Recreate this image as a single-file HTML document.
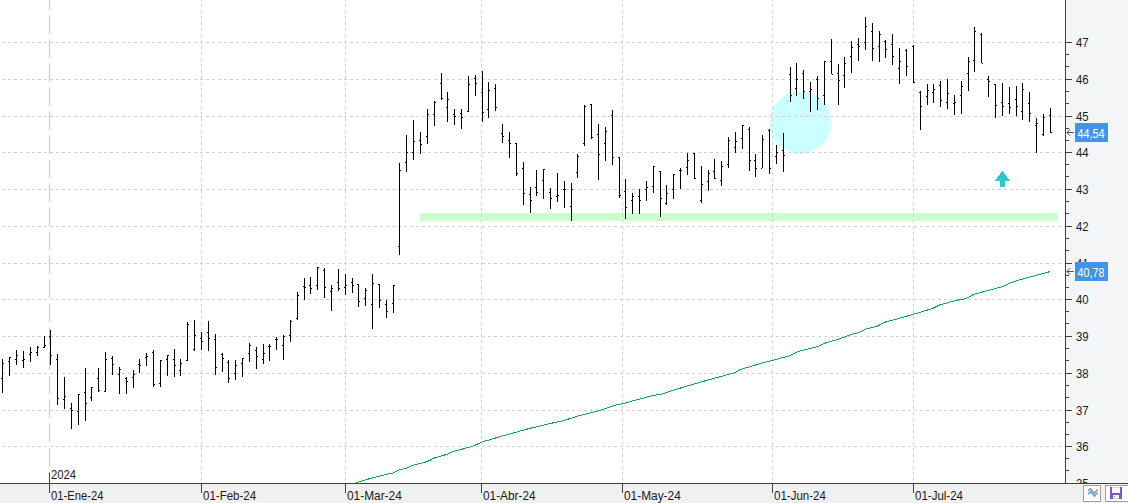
<!DOCTYPE html>
<html><head><meta charset="utf-8"><title>Chart</title>
<style>html,body{margin:0;padding:0;background:#fff;width:1128px;height:503px;overflow:hidden}</style>
</head><body>
<svg width="1128" height="503" viewBox="0 0 1128 503" shape-rendering="crispEdges" style="display:block">
<rect x="0" y="0" width="1128" height="503" fill="#ffffff"/>
<rect x="1066" y="0" width="62" height="483" fill="#f4f5f7"/>
<rect x="0" y="484" width="1128" height="19" fill="#f0f0f0"/>
<defs><clipPath id="pc"><rect x="0" y="0" width="1065" height="483"/></clipPath></defs>
<g clip-path="url(#pc)">
<circle cx="800.5" cy="122.7" r="31.2" fill="#ccffff"/>
<rect x="420" y="213" width="638" height="8" fill="#ccffcc"/>
<line x1="2" y1="42.5" x2="1065" y2="42.5" stroke="#d2d2d2" stroke-width="1" stroke-dasharray="3 3"/>
<line x1="2" y1="79.5" x2="1065" y2="79.5" stroke="#d2d2d2" stroke-width="1" stroke-dasharray="3 3"/>
<line x1="2" y1="116.5" x2="1065" y2="116.5" stroke="#d2d2d2" stroke-width="1" stroke-dasharray="3 3"/>
<line x1="2" y1="152.5" x2="1065" y2="152.5" stroke="#d2d2d2" stroke-width="1" stroke-dasharray="3 3"/>
<line x1="2" y1="189.5" x2="1065" y2="189.5" stroke="#d2d2d2" stroke-width="1" stroke-dasharray="3 3"/>
<line x1="2" y1="226.5" x2="1065" y2="226.5" stroke="#d2d2d2" stroke-width="1" stroke-dasharray="3 3"/>
<line x1="2" y1="263.5" x2="1065" y2="263.5" stroke="#d2d2d2" stroke-width="1" stroke-dasharray="3 3"/>
<line x1="2" y1="299.5" x2="1065" y2="299.5" stroke="#d2d2d2" stroke-width="1" stroke-dasharray="3 3"/>
<line x1="2" y1="336.5" x2="1065" y2="336.5" stroke="#d2d2d2" stroke-width="1" stroke-dasharray="3 3"/>
<line x1="2" y1="373.5" x2="1065" y2="373.5" stroke="#d2d2d2" stroke-width="1" stroke-dasharray="3 3"/>
<line x1="2" y1="410.5" x2="1065" y2="410.5" stroke="#d2d2d2" stroke-width="1" stroke-dasharray="3 3"/>
<line x1="2" y1="446.5" x2="1065" y2="446.5" stroke="#d2d2d2" stroke-width="1" stroke-dasharray="3 3"/>
<line x1="201.5" y1="-2" x2="201.5" y2="483" stroke="#d2d2d2" stroke-width="1" stroke-dasharray="3 3"/>
<line x1="345.5" y1="-2" x2="345.5" y2="483" stroke="#d2d2d2" stroke-width="1" stroke-dasharray="3 3"/>
<line x1="481.5" y1="-2" x2="481.5" y2="483" stroke="#d2d2d2" stroke-width="1" stroke-dasharray="3 3"/>
<line x1="622.5" y1="-2" x2="622.5" y2="483" stroke="#d2d2d2" stroke-width="1" stroke-dasharray="3 3"/>
<line x1="772.5" y1="-2" x2="772.5" y2="483" stroke="#d2d2d2" stroke-width="1" stroke-dasharray="3 3"/>
<line x1="913.5" y1="-2" x2="913.5" y2="483" stroke="#d2d2d2" stroke-width="1" stroke-dasharray="3 3"/>
<line x1="49.5" y1="-8" x2="49.5" y2="466" stroke="#c8c8c8" stroke-width="1" stroke-dasharray="18 6"/>
<polyline fill="none" stroke="#12a84e" stroke-width="1" points="355.5,483.5 357.0,482.4 374.0,477.4 389.6,473.6 393.9,472.8 399.6,469.6 406.7,468.2 412.3,465.4 427.9,461.4 433.6,458.3 447.8,454 453.5,451.5 473.3,446 481.8,442 498.9,437 529,428.6 554.6,422.5 563.1,420.7 580.1,415.4 597.1,411.2 614.1,405.5 622.7,403.7 636.8,399.8 653.9,395.3 661.3,394.3 678.4,388.6 706.7,380.4 735.1,372.6 740.8,369.3 763.5,362.7 772,360.5 789,356 797.5,351.7 810,348.5 817.8,346.5 824.9,343.2 841.9,338.2 850.4,334.7 858.9,332.6 866,329 877.3,326.2 884.4,322.3 901.5,317.7 912.8,314.5 932.7,308.4 939.8,304.9 955.4,300.6 965.9,298.6 973.9,294.3 1002.7,286.6 1010.7,282.7 1024.6,278.4 1048.4,272.1 1049.9,271.2"/>
<path fill="#000" d="M2 359h1v34h-1zM1 378h1v1h-1zM3 363h1v1h-1zM9 357h1v19h-1zM8 361h1v1h-1zM10 357h1v1h-1zM16 350h1v15h-1zM15 359h1v1h-1zM17 355h1v1h-1zM23 351h1v17h-1zM22 360h1v1h-1zM24 359h1v1h-1zM30 347h1v15h-1zM29 354h1v1h-1zM31 352h1v1h-1zM37 346h1v10h-1zM36 352h1v1h-1zM38 347h1v1h-1zM44 336h1v12h-1zM43 347h1v1h-1zM45 345h1v1h-1zM50 330h1v35h-1zM49 336h1v1h-1zM51 355h1v1h-1zM57 354h1v51h-1zM56 359h1v1h-1zM58 398h1v1h-1zM64 377h1v32h-1zM63 399h1v1h-1zM65 396h1v1h-1zM71 403h1v26h-1zM70 408h1v1h-1zM72 410h1v1h-1zM78 394h1v31h-1zM77 411h1v1h-1zM79 394h1v1h-1zM85 368h1v53h-1zM84 392h1v1h-1zM86 403h1v1h-1zM91 387h1v14h-1zM90 397h1v1h-1zM92 387h1v1h-1zM98 368h1v24h-1zM97 378h1v1h-1zM99 390h1v1h-1zM105 352h1v40h-1zM104 391h1v1h-1zM106 359h1v1h-1zM112 356h1v19h-1zM111 358h1v1h-1zM113 364h1v1h-1zM119 367h1v27h-1zM118 374h1v1h-1zM120 369h1v1h-1zM126 377h1v17h-1zM125 378h1v1h-1zM127 381h1v1h-1zM133 370h1v18h-1zM132 377h1v1h-1zM134 374h1v1h-1zM139 359h1v14h-1zM138 364h1v1h-1zM140 365h1v1h-1zM146 353h1v13h-1zM145 357h1v1h-1zM147 356h1v1h-1zM153 350h1v37h-1zM152 352h1v1h-1zM154 384h1v1h-1zM160 360h1v27h-1zM159 383h1v1h-1zM161 360h1v1h-1zM167 355h1v21h-1zM166 359h1v1h-1zM168 355h1v1h-1zM174 349h1v28h-1zM173 359h1v1h-1zM175 365h1v1h-1zM180 359h1v17h-1zM179 370h1v1h-1zM181 363h1v1h-1zM187 322h1v39h-1zM186 360h1v1h-1zM188 324h1v1h-1zM194 320h1v31h-1zM193 349h1v1h-1zM195 335h1v1h-1zM201 332h1v18h-1zM200 338h1v1h-1zM202 341h1v1h-1zM208 321h1v30h-1zM207 332h1v1h-1zM209 338h1v1h-1zM215 334h1v41h-1zM214 339h1v1h-1zM216 367h1v1h-1zM222 353h1v19h-1zM221 354h1v1h-1zM223 358h1v1h-1zM228 360h1v23h-1zM227 362h1v1h-1zM229 378h1v1h-1zM235 360h1v20h-1zM234 373h1v1h-1zM236 365h1v1h-1zM242 358h1v19h-1zM241 363h1v1h-1zM243 358h1v1h-1zM249 343h1v19h-1zM248 353h1v1h-1zM250 345h1v1h-1zM256 347h1v22h-1zM255 350h1v1h-1zM257 356h1v1h-1zM263 344h1v20h-1zM262 359h1v1h-1zM264 353h1v1h-1zM269 344h1v17h-1zM268 346h1v1h-1zM270 346h1v1h-1zM276 337h1v13h-1zM275 339h1v1h-1zM277 339h1v1h-1zM283 335h1v25h-1zM282 345h1v1h-1zM284 336h1v1h-1zM290 320h1v22h-1zM289 335h1v1h-1zM291 321h1v1h-1zM297 292h1v28h-1zM296 318h1v1h-1zM298 295h1v1h-1zM304 278h1v22h-1zM303 286h1v1h-1zM305 287h1v1h-1zM310 277h1v17h-1zM309 285h1v1h-1zM311 288h1v1h-1zM317 267h1v23h-1zM316 285h1v1h-1zM318 267h1v1h-1zM324 268h1v30h-1zM323 270h1v1h-1zM325 287h1v1h-1zM331 285h1v26h-1zM330 291h1v1h-1zM332 288h1v1h-1zM338 269h1v22h-1zM337 282h1v1h-1zM339 288h1v1h-1zM345 274h1v21h-1zM344 287h1v1h-1zM346 285h1v1h-1zM352 278h1v15h-1zM351 282h1v1h-1zM353 285h1v1h-1zM358 284h1v23h-1zM357 284h1v1h-1zM359 301h1v1h-1zM365 288h1v18h-1zM364 298h1v1h-1zM366 290h1v1h-1zM372 274h1v55h-1zM371 304h1v1h-1zM373 283h1v1h-1zM379 284h1v24h-1zM378 284h1v1h-1zM380 300h1v1h-1zM386 300h1v18h-1zM385 304h1v1h-1zM387 311h1v1h-1zM393 285h1v28h-1zM392 303h1v1h-1zM394 285h1v1h-1zM399 163h1v92h-1zM398 246h1v1h-1zM400 170h1v1h-1zM406 135h1v37h-1zM405 162h1v1h-1zM407 152h1v1h-1zM413 120h1v40h-1zM412 152h1v1h-1zM414 141h1v1h-1zM420 132h1v22h-1zM419 140h1v1h-1zM421 144h1v1h-1zM427 109h1v35h-1zM426 136h1v1h-1zM428 114h1v1h-1zM434 101h1v25h-1zM433 114h1v1h-1zM435 102h1v1h-1zM441 73h1v27h-1zM440 83h1v1h-1zM442 98h1v1h-1zM447 92h1v30h-1zM446 107h1v1h-1zM448 99h1v1h-1zM454 109h1v16h-1zM453 114h1v1h-1zM455 116h1v1h-1zM461 109h1v20h-1zM460 113h1v1h-1zM462 117h1v1h-1zM468 76h1v36h-1zM467 111h1v1h-1zM469 84h1v1h-1zM475 75h1v21h-1zM474 78h1v1h-1zM476 83h1v1h-1zM482 71h1v51h-1zM481 92h1v1h-1zM483 112h1v1h-1zM488 82h1v36h-1zM487 109h1v1h-1zM489 90h1v1h-1zM495 84h1v27h-1zM494 88h1v1h-1zM496 107h1v1h-1zM502 124h1v19h-1zM501 133h1v1h-1zM503 136h1v1h-1zM509 132h1v26h-1zM508 140h1v1h-1zM510 143h1v1h-1zM516 143h1v33h-1zM515 143h1v1h-1zM517 173h1v1h-1zM523 162h1v43h-1zM522 168h1v1h-1zM524 193h1v1h-1zM530 187h1v26h-1zM529 194h1v1h-1zM531 200h1v1h-1zM536 170h1v26h-1zM535 187h1v1h-1zM537 192h1v1h-1zM543 169h1v30h-1zM542 180h1v1h-1zM544 169h1v1h-1zM550 188h1v21h-1zM549 192h1v1h-1zM551 198h1v1h-1zM557 173h1v29h-1zM556 196h1v1h-1zM558 195h1v1h-1zM564 181h1v27h-1zM563 189h1v1h-1zM565 189h1v1h-1zM571 183h1v38h-1zM570 206h1v1h-1zM572 189h1v1h-1zM577 154h1v24h-1zM576 172h1v1h-1zM578 156h1v1h-1zM584 105h1v41h-1zM583 143h1v1h-1zM585 106h1v1h-1zM591 104h1v35h-1zM590 104h1v1h-1zM592 137h1v1h-1zM598 124h1v56h-1zM597 134h1v1h-1zM599 154h1v1h-1zM605 127h1v34h-1zM604 143h1v1h-1zM606 131h1v1h-1zM612 110h1v55h-1zM611 115h1v1h-1zM613 157h1v1h-1zM619 157h1v41h-1zM618 157h1v1h-1zM620 195h1v1h-1zM625 179h1v40h-1zM624 191h1v1h-1zM626 207h1v1h-1zM632 193h1v21h-1zM631 200h1v1h-1zM633 196h1v1h-1zM639 189h1v25h-1zM638 196h1v1h-1zM640 200h1v1h-1zM646 181h1v20h-1zM645 189h1v1h-1zM647 187h1v1h-1zM653 166h1v27h-1zM652 186h1v1h-1zM654 166h1v1h-1zM660 171h1v46h-1zM659 171h1v1h-1zM661 198h1v1h-1zM666 185h1v20h-1zM665 203h1v1h-1zM667 193h1v1h-1zM673 174h1v25h-1zM672 189h1v1h-1zM674 174h1v1h-1zM680 168h1v21h-1zM679 170h1v1h-1zM681 170h1v1h-1zM687 153h1v22h-1zM686 167h1v1h-1zM688 160h1v1h-1zM694 153h1v26h-1zM693 153h1v1h-1zM695 178h1v1h-1zM701 166h1v37h-1zM700 200h1v1h-1zM702 184h1v1h-1zM708 170h1v21h-1zM707 181h1v1h-1zM709 173h1v1h-1zM714 159h1v20h-1zM713 171h1v1h-1zM715 178h1v1h-1zM721 161h1v25h-1zM720 180h1v1h-1zM722 166h1v1h-1zM728 137h1v31h-1zM727 164h1v1h-1zM729 140h1v1h-1zM735 132h1v21h-1zM734 147h1v1h-1zM736 141h1v1h-1zM742 125h1v24h-1zM741 138h1v1h-1zM743 125h1v1h-1zM749 127h1v44h-1zM748 129h1v1h-1zM750 160h1v1h-1zM755 154h1v23h-1zM754 160h1v1h-1zM756 168h1v1h-1zM762 135h1v33h-1zM761 168h1v1h-1zM763 139h1v1h-1zM769 129h1v45h-1zM768 130h1v1h-1zM770 168h1v1h-1zM776 145h1v19h-1zM775 156h1v1h-1zM777 152h1v1h-1zM783 133h1v39h-1zM782 150h1v1h-1zM784 155h1v1h-1zM790 67h1v35h-1zM789 74h1v1h-1zM791 95h1v1h-1zM796 63h1v33h-1zM795 88h1v1h-1zM797 79h1v1h-1zM803 70h1v29h-1zM802 73h1v1h-1zM804 91h1v1h-1zM810 82h1v30h-1zM809 91h1v1h-1zM811 89h1v1h-1zM817 76h1v34h-1zM816 79h1v1h-1zM818 98h1v1h-1zM824 61h1v44h-1zM823 95h1v1h-1zM825 61h1v1h-1zM831 39h1v35h-1zM830 61h1v1h-1zM832 74h1v1h-1zM838 64h1v41h-1zM837 73h1v1h-1zM839 80h1v1h-1zM844 57h1v31h-1zM843 75h1v1h-1zM845 63h1v1h-1zM851 41h1v32h-1zM850 56h1v1h-1zM852 47h1v1h-1zM858 38h1v23h-1zM857 44h1v1h-1zM859 46h1v1h-1zM865 17h1v33h-1zM864 42h1v1h-1zM866 26h1v1h-1zM872 23h1v38h-1zM871 31h1v1h-1zM873 48h1v1h-1zM879 31h1v31h-1zM878 46h1v1h-1zM880 34h1v1h-1zM885 40h1v18h-1zM884 41h1v1h-1zM886 49h1v1h-1zM892 34h1v31h-1zM891 44h1v1h-1zM893 56h1v1h-1zM899 48h1v36h-1zM898 68h1v1h-1zM900 61h1v1h-1zM906 49h1v27h-1zM905 50h1v1h-1zM907 66h1v1h-1zM913 45h1v38h-1zM912 46h1v1h-1zM914 82h1v1h-1zM920 91h1v39h-1zM919 92h1v1h-1zM921 106h1v1h-1zM927 84h1v21h-1zM926 96h1v1h-1zM928 90h1v1h-1zM933 84h1v19h-1zM932 92h1v1h-1zM934 89h1v1h-1zM940 81h1v26h-1zM939 85h1v1h-1zM941 100h1v1h-1zM947 79h1v30h-1zM946 102h1v1h-1zM948 93h1v1h-1zM954 95h1v20h-1zM953 103h1v1h-1zM955 102h1v1h-1zM961 81h1v33h-1zM960 95h1v1h-1zM962 86h1v1h-1zM968 57h1v34h-1zM967 73h1v1h-1zM969 61h1v1h-1zM974 27h1v45h-1zM973 60h1v1h-1zM975 31h1v1h-1zM981 33h1v30h-1zM980 34h1v1h-1zM982 63h1v1h-1zM988 76h1v21h-1zM987 79h1v1h-1zM989 81h1v1h-1zM995 84h1v34h-1zM994 84h1v1h-1zM996 105h1v1h-1zM1002 83h1v33h-1zM1001 102h1v1h-1zM1003 106h1v1h-1zM1009 87h1v27h-1zM1008 103h1v1h-1zM1010 107h1v1h-1zM1016 86h1v30h-1zM1015 99h1v1h-1zM1017 106h1v1h-1zM1022 83h1v37h-1zM1021 111h1v1h-1zM1023 89h1v1h-1zM1029 92h1v30h-1zM1028 103h1v1h-1zM1030 113h1v1h-1zM1036 118h1v35h-1zM1035 125h1v1h-1zM1037 123h1v1h-1zM1043 114h1v22h-1zM1042 134h1v1h-1zM1044 117h1v1h-1zM1050 108h1v25h-1zM1049 115h1v1h-1zM1051 132h1v1h-1z"/>
<path fill="#2ec8cc" d="M1002.3 170.8 L1010 181 L1005 181 L1005 187 L1000 187 L1000 181 L995 181 Z"/>
</g>
<rect x="1065" y="0" width="1" height="484" fill="#404040"/>
<rect x="0" y="483" width="1128" height="1" fill="#404040"/>
<rect x="1066" y="42" width="6" height="1" fill="#404040"/>
<rect x="1066" y="79" width="6" height="1" fill="#404040"/>
<rect x="1066" y="116" width="6" height="1" fill="#404040"/>
<rect x="1066" y="152" width="6" height="1" fill="#404040"/>
<rect x="1066" y="189" width="6" height="1" fill="#404040"/>
<rect x="1066" y="226" width="6" height="1" fill="#404040"/>
<rect x="1066" y="263" width="6" height="1" fill="#404040"/>
<rect x="1066" y="299" width="6" height="1" fill="#404040"/>
<rect x="1066" y="336" width="6" height="1" fill="#404040"/>
<rect x="1066" y="373" width="6" height="1" fill="#404040"/>
<rect x="1066" y="410" width="6" height="1" fill="#404040"/>
<rect x="1066" y="446" width="6" height="1" fill="#404040"/>
<rect x="1066" y="483" width="6" height="1" fill="#404040"/>
<rect x="1066" y="54" width="3" height="1" fill="#404040"/>
<rect x="1066" y="66" width="3" height="1" fill="#404040"/>
<rect x="1066" y="91" width="3" height="1" fill="#404040"/>
<rect x="1066" y="103" width="3" height="1" fill="#404040"/>
<rect x="1066" y="128" width="3" height="1" fill="#404040"/>
<rect x="1066" y="140" width="3" height="1" fill="#404040"/>
<rect x="1066" y="164" width="3" height="1" fill="#404040"/>
<rect x="1066" y="176" width="3" height="1" fill="#404040"/>
<rect x="1066" y="201" width="3" height="1" fill="#404040"/>
<rect x="1066" y="213" width="3" height="1" fill="#404040"/>
<rect x="1066" y="238" width="3" height="1" fill="#404040"/>
<rect x="1066" y="250" width="3" height="1" fill="#404040"/>
<rect x="1066" y="275" width="3" height="1" fill="#404040"/>
<rect x="1066" y="287" width="3" height="1" fill="#404040"/>
<rect x="1066" y="311" width="3" height="1" fill="#404040"/>
<rect x="1066" y="323" width="3" height="1" fill="#404040"/>
<rect x="1066" y="348" width="3" height="1" fill="#404040"/>
<rect x="1066" y="360" width="3" height="1" fill="#404040"/>
<rect x="1066" y="385" width="3" height="1" fill="#404040"/>
<rect x="1066" y="397" width="3" height="1" fill="#404040"/>
<rect x="1066" y="422" width="3" height="1" fill="#404040"/>
<rect x="1066" y="434" width="3" height="1" fill="#404040"/>
<rect x="1066" y="458" width="3" height="1" fill="#404040"/>
<rect x="1066" y="470" width="3" height="1" fill="#404040"/>
<defs><clipPath id="yc"><rect x="1066" y="0" width="62" height="483"/></clipPath></defs>
<g font-family="Liberation Sans, sans-serif" font-size="12" fill="#1a1a1a" shape-rendering="auto" clip-path="url(#yc)">
<text transform="translate(1076,46.8) scale(0.95,1)">47</text>
<text transform="translate(1076,83.8) scale(0.95,1)">46</text>
<text transform="translate(1076,120.8) scale(0.95,1)">45</text>
<text transform="translate(1076,156.8) scale(0.95,1)">44</text>
<text transform="translate(1076,193.8) scale(0.95,1)">43</text>
<text transform="translate(1076,230.8) scale(0.95,1)">42</text>
<text transform="translate(1076,267.8) scale(0.95,1)">41</text>
<text transform="translate(1076,303.8) scale(0.95,1)">40</text>
<text transform="translate(1076,340.8) scale(0.95,1)">39</text>
<text transform="translate(1076,377.8) scale(0.95,1)">38</text>
<text transform="translate(1076,414.8) scale(0.95,1)">37</text>
<text transform="translate(1076,450.8) scale(0.95,1)">36</text>
<text transform="translate(1076,487.8) scale(0.95,1)">35</text>
</g>
<rect x="201" y="483" width="1" height="10" fill="#404040"/>
<rect x="345" y="483" width="1" height="10" fill="#404040"/>
<rect x="481" y="483" width="1" height="10" fill="#404040"/>
<rect x="622" y="483" width="1" height="10" fill="#404040"/>
<rect x="772" y="483" width="1" height="10" fill="#404040"/>
<rect x="913" y="483" width="1" height="10" fill="#404040"/>
<rect x="49" y="473" width="1" height="20" fill="#404040"/>
<rect x="49" y="472" width="1" height="1" fill="#b0b0b0"/>
<g font-family="Liberation Sans, sans-serif" font-size="12" fill="#1a1a1a" shape-rendering="auto">
<text transform="translate(51,479) scale(0.94,1)">2024</text>
<text transform="translate(51,499.6) scale(0.935,1)">01-Ene-24</text>
<text transform="translate(203,499.6) scale(0.96,1)">01-Feb-24</text>
<text transform="translate(347,499.6) scale(0.99,1)">01-Mar-24</text>
<text transform="translate(483,499.6) scale(0.985,1)">01-Abr-24</text>
<text transform="translate(624,499.6) scale(0.99,1)">01-May-24</text>
<text transform="translate(774,499.6) scale(0.96,1)">01-Jun-24</text>
<text transform="translate(915,499.6) scale(0.96,1)">01-Jul-24</text>
</g>
<rect x="1075" y="123" width="33" height="19" fill="#4194e6"/>
<path d="M1067 132.5 h6.8 M1070 129.2 L1067 132.5 L1070 135.8" stroke="#3a3a3a" stroke-width="0.9" fill="none" shape-rendering="auto"/>
<text transform="translate(1077.5,138) scale(0.9,1)" font-family="Liberation Sans, sans-serif" font-size="12" fill="#fff" shape-rendering="auto">44,54</text>
<rect x="1075" y="262" width="33" height="19" fill="#4194e6"/>
<path d="M1067 271.5 h6.8 M1070 268.2 L1067 271.5 L1070 274.8" stroke="#3a3a3a" stroke-width="0.9" fill="none" shape-rendering="auto"/>
<text transform="translate(1077.5,277) scale(0.9,1)" font-family="Liberation Sans, sans-serif" font-size="12" fill="#fff" shape-rendering="auto">40,78</text>
<rect x="1083.5" y="485.5" width="17" height="16" fill="#fff" stroke="#a0a0a0" stroke-width="1"/>
<path d="M1088 491 L1090.4 488.5 L1094.2 493.3 L1097.7 489.4" stroke="#909090" stroke-width="1.4" fill="none" shape-rendering="auto"/>
<path d="M1088 494.4 L1090.4 491.6 L1094.4 496.2 L1097.7 492.4" stroke="#4aa0dc" stroke-width="1.4" fill="none" shape-rendering="auto"/>
<rect x="1105.5" y="485.5" width="30" height="16" fill="#fff" stroke="#a0a0a0" stroke-width="1"/>
<rect x="1110" y="487" width="12" height="12" fill="#8654c9"/>
<rect x="1112" y="487" width="8" height="1" fill="#ddd0f2"/>
<rect x="1112" y="488" width="8" height="5" fill="#fff"/>
<rect x="1113" y="495" width="6" height="3" fill="#fff"/>
<rect x="1113" y="498" width="6" height="1" fill="#ddd0f2"/>
<rect x="1114" y="496" width="1" height="1" fill="#8654c9"/>
</svg>
</body></html>
